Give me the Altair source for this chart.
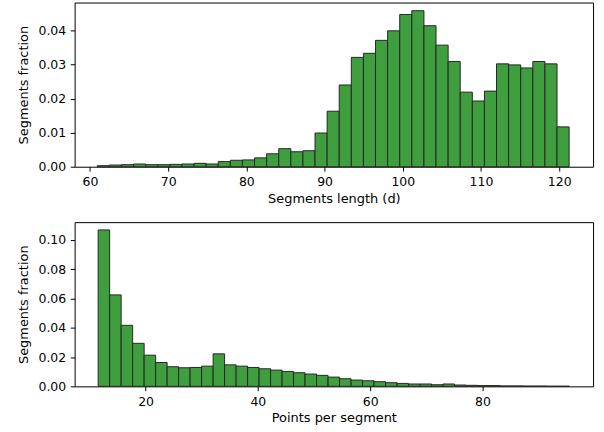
import altair as alt
import numpy as np
import pandas as pd

# Top histogram: segment length (d)
len_lo, len_hi = 60.93, 121.27
len_frac = [0.0003, 0.0005, 0.0006, 0.0008, 0.0006, 0.0006, 0.0007, 0.0008, 0.0010, 0.0008,
            0.0015, 0.0019, 0.0020, 0.0026, 0.0038, 0.0053, 0.0044, 0.0047, 0.0099, 0.0163,
            0.0240, 0.0321, 0.0333, 0.0371, 0.0399, 0.0447, 0.0458, 0.0414, 0.0357, 0.0309,
            0.0219, 0.0193, 0.0222, 0.0302, 0.0299, 0.0290, 0.0309, 0.0302, 0.0117]

# Bottom histogram: points per segment
pts_lo, pts_hi = 11.56, 95.5
pts_frac = [0.1069, 0.0625, 0.0417, 0.0294, 0.0213, 0.0163, 0.0134, 0.0127, 0.0129, 0.0138,
            0.0222, 0.0147, 0.0138, 0.0129, 0.0120, 0.0111, 0.0102, 0.0093, 0.0084, 0.0075,
            0.0063, 0.0052, 0.0043, 0.0038, 0.0032, 0.0025, 0.0020, 0.0016, 0.0016, 0.0011,
            0.0016, 0.0009, 0.0007, 0.0005, 0.0005, 0.0003, 0.0003, 0.0002, 0.0002, 0.0001,
            0.0001]

len_ticks = [60, 70, 80, 90, 100, 110, 120]
len_yticks = [0.00, 0.01, 0.02, 0.03, 0.04]
pts_ticks = [20, 40, 60, 80]
pts_yticks = [0.00, 0.02, 0.04, 0.06, 0.08, 0.10]


def hist_df(lo, hi, vals):
    edges = np.linspace(lo, hi, len(vals) + 1)
    return pd.DataFrame({"x0": edges[:-1], "x1": edges[1:], "y": vals})


FILL = "#3f9f3f"
EDGE = "#262626"
W, H = 521, 165


def panel(df, xdom, ydom, xticks, yticks, xtitle):
    return alt.Chart(df).mark_rect(fill=FILL, stroke=EDGE, strokeWidth=1).encode(
        x=alt.X("x0:Q", scale=alt.Scale(domain=xdom, nice=False, zero=False),
                axis=alt.Axis(values=xticks, format="d", title=xtitle)),
        x2="x1:Q",
        y=alt.Y("y:Q", scale=alt.Scale(domain=ydom, nice=False),
                axis=alt.Axis(values=yticks, format=".2f", title="Segments fraction")),
        y2=alt.datum(0),
    ).properties(width=W, height=H)


top = panel(hist_df(len_lo, len_hi, len_frac), [58.04, 124.33], [0, 0.0482],
            len_ticks, len_yticks, "Segments length (d)")
bottom = panel(hist_df(pts_lo, pts_hi, pts_frac), [7.37, 99.7], [0, 0.1122],
               pts_ticks, pts_yticks, "Points per segment")

chart = alt.vconcat(top, bottom, spacing=55.7, bounds="flush").properties(
    padding={"left": 16, "top": 0.5, "right": 10, "bottom": 0},
    background="white",
).configure_view(
    stroke="#000000", strokeWidth=1
).configure_axis(
    grid=False,
    domain=False,
    tickColor="#000000",
    tickSize=4.4,
    tickWidth=1,
    labelPadding=4.6,
    labelFont="DejaVu Sans",
    labelFontSize=12.5,
    labelColor="#000000",
    titleFont="DejaVu Sans",
    titleFontSize=13,
    titleFontWeight="normal",
    titleColor="#000000",
).configure_axisY(
    titlePadding=8,
).configure_axisX(
    titlePadding=4,
)

chart.save("out.html", embed_options={"renderer": "svg", "actions": False})
